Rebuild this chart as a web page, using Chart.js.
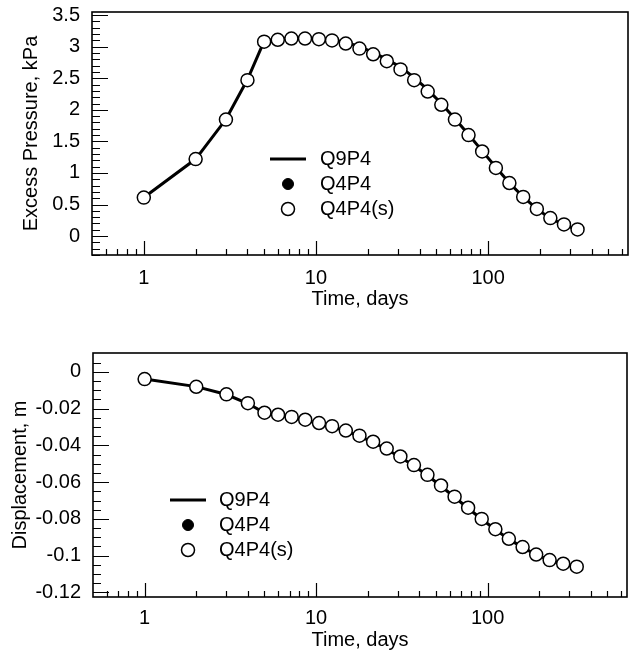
<!DOCTYPE html>
<html><head><meta charset="utf-8">
<script src="https://cdn.jsdelivr.net/npm/chart.js@4.4.1/dist/chart.umd.min.js"></script>
<style>
html,body{margin:0;padding:0;background:#fff;}
#wrap{position:relative;width:638px;height:654px;overflow:hidden;}
.box{position:absolute;left:0;width:638px;}
#b1{top:0;height:327px}
#b2{top:327px;height:327px}
</style></head><body>
<div id="wrap"><div class="box" id="b1"><canvas id="c1"></canvas></div><div class="box" id="b2"><canvas id="c2"></canvas></div></div>
<script>
// ---------- data ----------
const timeDays = [1,2,3,4,5,6,7.2,8.64,10.4,12.4,14.9,17.9,21.5,25.8,31,37.2,44.6,53.5,64.2,77,92.4,111,133,160,192,230,276,331];
const pressQ9P4  = [0.61,1.22,1.85,2.48,3.09,3.12,3.14,3.14,3.13,3.11,3.07,3.00,2.91,2.80,2.68,2.51,2.32,2.10,1.86,1.61,1.35,1.09,0.84,0.62,0.43,0.28,0.18,0.10];
const pressQ4P4  = [0.61,1.22,1.84,2.47,3.08,3.11,3.13,3.13,3.12,3.10,3.05,2.97,2.88,2.77,2.64,2.47,2.29,2.08,1.84,1.60,1.34,1.08,0.84,0.62,0.43,0.285,0.185,0.105];
const pressQ4P4s = [0.61,1.22,1.845,2.47,3.08,3.11,3.13,3.13,3.12,3.10,3.05,2.97,2.88,2.77,2.64,2.47,2.29,2.08,1.845,1.60,1.34,1.08,0.84,0.62,0.43,0.285,0.185,0.105];
const dispQ9P4  = [-0.0038,-0.0080,-0.0123,-0.0172,-0.0223,-0.0235,-0.0247,-0.0262,-0.0280,-0.0298,-0.0322,-0.0350,-0.0383,-0.0421,-0.0464,-0.0511,-0.0564,-0.0621,-0.0682,-0.0742,-0.0802,-0.0858,-0.0910,-0.0955,-0.0995,-0.1025,-0.1045,-0.1060];
const dispQ4P4  = [-0.0039,-0.0081,-0.0122,-0.0170,-0.0222,-0.0233,-0.0245,-0.0260,-0.0278,-0.0295,-0.0319,-0.0347,-0.0380,-0.0417,-0.0460,-0.0507,-0.0560,-0.0618,-0.0679,-0.0739,-0.0800,-0.0856,-0.0908,-0.0953,-0.0994,-0.1024,-0.1044,-0.1060];
const dispQ4P4s = [-0.0039,-0.0081,-0.0122,-0.0170,-0.0222,-0.0233,-0.0245,-0.0260,-0.0278,-0.0295,-0.0319,-0.0347,-0.0380,-0.0417,-0.0460,-0.0507,-0.0560,-0.0618,-0.0679,-0.0739,-0.0800,-0.0856,-0.0908,-0.0953,-0.0994,-0.1024,-0.1044,-0.1060];
const seriesNames = ['Q9P4','Q4P4','Q4P4(s)'];
const xMajorTicks = [1,10,100];
const xTickLabels = ['1','10','100'];
const pressMajorTicks = [0,0.5,1,1.5,2,2.5,3,3.5];
const pressTickLabels = ['0','0.5','1','1.5','2','2.5','3','3.5'];
const dispMajorTicks = [0,-0.02,-0.04,-0.06,-0.08,-0.1,-0.12];
const dispTickLabels = ['0','-0.02','-0.04','-0.06','-0.08','-0.1','-0.12'];

const FONT = '"Liberation Sans", Arial, Helvetica, sans-serif';
Chart.defaults.font.family = FONT;
Chart.defaults.color = '#000';

function pts(ys){ return timeDays.map((t,i)=>({x:t,y:ys[i]})); }

function xMinorTicks(min,max){
  const out=[];
  for (const d of [0.1,1,10,100,1000]) for (let m=2;m<=9;m++){ const v=+(m*d).toPrecision(6); if(v>min&&v<max) out.push(v); }
  for (const v of xMajorTicks) if(v>min&&v<max) out.push(v*1);
  return out;
}
function yMinorTicks(from,to,step){
  const out=[]; const n=Math.round((to-from)/step);
  for(let i=0;i<=n;i++) out.push(+(from+i*step).toFixed(6));
  return out;
}

const framePlugin = {
  id:'frameTicks',
  beforeDatasetsDraw(chart){
    const o = chart.options.plugins.frameTicks; if(!o) return;
    const {ctx, chartArea:a} = chart;
    const xs = chart.scales.x, ys = chart.scales.y;
    ctx.save();
    ctx.strokeStyle='#000';
    ctx.lineWidth=1.2;
    ctx.beginPath();
    for (const v of o.xMinor){ const px=Math.round(xs.getPixelForValue(v))+0.5; const L = xMajorTicks.includes(v)?o.xMajorLen:o.xMinorLen; ctx.moveTo(px,a.bottom); ctx.lineTo(px,a.bottom-L); }
    for (const v of o.yMinor){ const py=Math.round(ys.getPixelForValue(v))+0.5; if(py<a.top-0.5||py>a.bottom+0.5) continue; const L = o.yMajor.some(m=>Math.abs(m-v)<1e-9)?o.yMajorLen:o.yMinorLen; ctx.moveTo(a.left,py); ctx.lineTo(a.left+L,py); }
    ctx.stroke();
    ctx.lineWidth=1.6;
    ctx.strokeRect(a.left,a.top,a.right-a.left,a.bottom-a.top);
    ctx.restore();
  }
};

const legendPlugin = {
  id:'inLegend',
  afterDatasetsDraw(chart){
    const o = chart.options.plugins.inLegend; if(!o) return;
    const ctx = chart.ctx;
    ctx.save();
    ctx.font = o.fontSize+'px '+FONT;
    ctx.textBaseline='middle'; ctx.textAlign='left'; ctx.fillStyle='#000';
    [0,1,2].forEach((i,row)=>{
      const ds = chart.data.datasets[i];
      const y = o.y + row*o.gap;
      if (ds.showLine !== false){
        ctx.strokeStyle=ds.borderColor; ctx.lineWidth=ds.borderWidth;
        ctx.beginPath(); ctx.moveTo(o.x0,y); ctx.lineTo(o.x1,y); ctx.stroke();
      } else {
        const cx=(o.x0+o.x1)/2;
        ctx.beginPath(); ctx.arc(cx,y,ds.pointRadius,0,Math.PI*2);
        ctx.fillStyle=ds.pointBackgroundColor; ctx.fill();
        ctx.lineWidth=ds.pointBorderWidth; ctx.strokeStyle=ds.pointBorderColor; ctx.stroke();
      }
      ctx.fillStyle='#000';
      ctx.fillText(ds.label,o.tx,y);
    });
    ctx.restore();
  }
};

function makeChart(id, cfg){
  const datasets = [
    {label:seriesNames[0], data:pts(cfg.s[0]), borderColor:'#000', borderWidth:3, pointRadius:0, tension:0, order:3, fill:false},
    {label:seriesNames[1], data:pts(cfg.s[1]), showLine:false, pointRadius:5.5, pointBackgroundColor:'#000', pointBorderColor:'#000', pointBorderWidth:1, order:2},
    {label:seriesNames[2], data:pts(cfg.s[2]), showLine:false, pointRadius:6.5, pointBackgroundColor:'#fff', pointBorderColor:'#000', pointBorderWidth:1.5, order:1}
  ];
  return new Chart(document.getElementById(id), {
    type:'line',
    data:{datasets},
    plugins:[framePlugin, legendPlugin],
    options:{
      responsive:true, maintainAspectRatio:false, animation:false, devicePixelRatio:1,
      layout:{padding:{top:cfg.padTop,right:cfg.padRight,left:0,bottom:0}},
      plugins:{
        legend:{display:false}, tooltip:{enabled:false},
        frameTicks:{xMinor:xMinorTicks(0.5,650), yMinor:cfg.yMinor, yMajor:cfg.yMajor, xMajorLen:14, xMinorLen:6, yMajorLen:16, yMinorLen:8},
        inLegend:cfg.legend
      },
      scales:{
        x:{type:'logarithmic', min:0.5, max:650,
           afterBuildTicks:s=>{s.ticks = xMajorTicks.map(v=>({value:v, major:true}));},
           afterFit:s=>{s.height=cfg.xHeight; s.paddingLeft=0; s.paddingRight=0;},
           grid:{display:false, drawTicks:false}, border:{display:false},
           ticks:{autoSkip:false, maxRotation:0, padding:cfg.xTickPad, font:{size:20}, color:'#000', callback:(v,i)=>xTickLabels[i]},
           title:{display:true, text:'Time, days', font:{size:20}, color:'#000', padding:{top:0,bottom:cfg.xTitlePad}}
        },
        y:{type:'linear', min:cfg.ymin, max:cfg.ymax,
           afterBuildTicks:s=>{s.ticks = cfg.yMajor.map(v=>({value:v}));},
           afterFit:s=>{s.width=cfg.yWidth; s.paddingTop=0; s.paddingBottom=0;},
           grid:{display:false, drawTicks:false}, border:{display:false},
           ticks:{autoSkip:false, padding:12, font:{size:20}, color:'#000', callback:(v,i)=>cfg.yLabels[i]},
           title:{display:true, text:cfg.yTitle, font:{size:20}, color:'#000', padding:{top:cfg.yTitlePad,bottom:0}}
        }
      }
    }
  });
}

makeChart('c1', {
  s:[pressQ9P4, pressQ4P4, pressQ4P4s],
  ymin:-0.3, ymax:3.55, yMajor:pressMajorTicks, yLabels:pressTickLabels,
  yMinor:yMinorTicks(-0.3,3.5,0.1), yTitle:'Excess Pressure, kPa',
  padTop:12, padRight:10, xHeight:72, yWidth:92, xTickPad:11, xTitlePad:16, yTitlePad:19,
  legend:{x0:270, x1:306, tx:320, y:159, gap:25, fontSize:20}
});
makeChart('c2', {
  s:[dispQ9P4, dispQ4P4, dispQ4P4s],
  ymin:-0.1225, ymax:0.0103, yMajor:dispMajorTicks, yLabels:dispTickLabels,
  yMinor:yMinorTicks(-0.12,0.005,0.005), yTitle:'Displacement, m',
  padTop:26, padRight:11, xHeight:57, yWidth:93, xTickPad:9, xTitlePad:2, yTitlePad:8,
  legend:{x0:170, x1:206, tx:219, y:173, gap:25, fontSize:20}
});
</script>
</body></html>
